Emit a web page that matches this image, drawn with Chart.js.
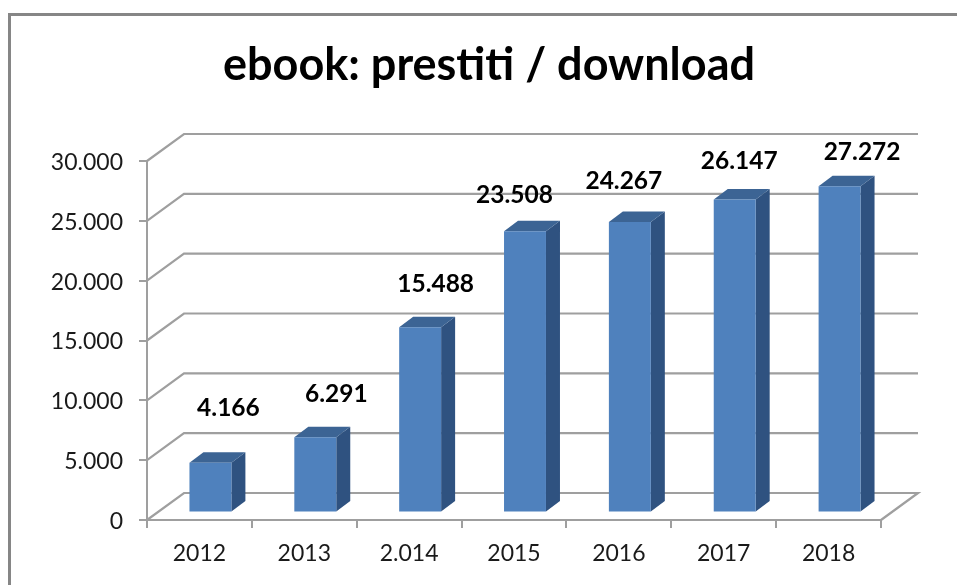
<!DOCTYPE html>
<html>
<head>
<meta charset="utf-8">
<title>ebook: prestiti / download</title>
<style>
html, body { margin: 0; padding: 0; background: #fff; overflow: hidden; }
#wrap { position: relative; width: 957px; height: 585px; overflow: hidden; }
#frame { position: absolute; left: 8px; top: 13px; width: 1000px; height: 700px; border: 3px solid #868686; }
canvas { position: absolute; left: 0; top: 0; }
</style>
</head>
<body>
<div id="wrap">
    <div id="frame"></div>
    <canvas id="myChart" width="957" height="585"></canvas>
</div>
<script src="https://cdn.jsdelivr.net/npm/chart.js@4/dist/chart.umd.min.js"></script>
<script>
var categories = ['2012', '2013', '2.014', '2015', '2016', '2017', '2018'];
var prestiti = [4166, 6291, 15488, 23508, 24267, 26147, 27272];
var yTicks = [0, 5000, 10000, 15000, 20000, 25000, 30000];

// hand placed labels in the original, offset from the top of each bar
var labelShift = [[29, -62], [32, -51], [26.5, -51], [0.5, -44], [5, -49], [15.5, -46], [33.5, -42]];

var wall = { dx: 37, dy: -27 };
var bar3d = { dx: 14, dy: -10.5, shiftX: 11, shiftY: -7.5 };
var color = {
    grid: '#9f9f9f',
    front: '#4f81bd',
    side: '#2f5280',
    top: '#3c6494',
    text: '#1a1a1a'
};

function itNumber(v) {
    return String(v).replace(/\B(?=(\d{3})+$)/g, '.');
}

function poly(ctx, pts, fill) {
    ctx.beginPath();
    ctx.moveTo(pts[0][0], pts[0][1]);
    for (var i = 1; i < pts.length; i++) {
        ctx.lineTo(pts[i][0], pts[i][1]);
    }
    ctx.closePath();
    ctx.fillStyle = fill;
    ctx.fill();
}

var depthPlugin = {
    id: 'depth',
    afterLayout: function (chart) {
        // title sits right of the page centre in the original
        chart.titleBlock.left = 97;
    },
    beforeDatasetsDraw: function (chart) {
        // back wall and floor
        var ctx = chart.ctx, y = chart.scales.y, a = chart.chartArea;
        ctx.save();
        ctx.strokeStyle = color.grid;
        ctx.lineWidth = 2.2;
        yTicks.forEach(function (t) {
            var py = y.getPixelForValue(t);
            ctx.beginPath();
            ctx.moveTo(a.left, py);
            ctx.lineTo(a.left + wall.dx, py + wall.dy);
            ctx.lineTo(a.right + wall.dx, py + wall.dy);
            if (t === 0) {
                ctx.lineTo(a.right, py);
            }
            ctx.stroke();
        });
        ctx.restore();
    },
    beforeDatasetDraw: function (chart) {
        var ctx = chart.ctx;
        ctx.save();
        ctx.translate(bar3d.shiftX, bar3d.shiftY);
        chart.getDatasetMeta(0).data.forEach(function (b) {
            var l = b.x - b.width / 2, r = b.x + b.width / 2;
            poly(ctx, [[r, b.y], [r + bar3d.dx, b.y + bar3d.dy], [r + bar3d.dx, b.base + bar3d.dy], [r, b.base]], color.side);
            poly(ctx, [[l, b.y], [l + bar3d.dx, b.y + bar3d.dy], [r + bar3d.dx, b.y + bar3d.dy], [r, b.y]], color.top);
        });
    },
    afterDatasetDraw: function (chart) {
        chart.ctx.restore();
    },
    afterDatasetsDraw: function (chart) {
        var ctx = chart.ctx;
        ctx.save();
        ctx.font = 'bold 24.5px Lato';
        ctx.fillStyle = '#000';
        ctx.textAlign = 'center';
        ctx.textBaseline = 'middle';
        chart.getDatasetMeta(0).data.forEach(function (b, i) {
            ctx.fillText(itNumber(prestiti[i]), b.x + labelShift[i][0], b.y + labelShift[i][1]);
        });
        ctx.restore();
    }
};

document.addEventListener('DOMContentLoaded', function () {
    var ctx = document.getElementById('myChart').getContext('2d');
    var myChart = new Chart(ctx, {
        type: 'bar',
        data: {
            labels: categories,
            datasets: [{
                label: 'prestiti / download',
                data: prestiti,
                backgroundColor: color.front,
                borderWidth: 0,
                barPercentage: 1,
                categoryPercentage: 0.4,
                clip: false
            }]
        },
        plugins: [depthPlugin],
        options: {
            responsive: false,
            animation: false,
            layout: { padding: { left: 0, right: 76, top: 0, bottom: 0 } },
            plugins: {
                legend: { display: false },
                tooltip: { enabled: false },
                title: {
                    display: true,
                    text: 'ebook: prestiti / download',
                    color: '#000',
                    font: { family: 'Lato', size: 45, weight: 'bold', lineHeight: 1.2 },
                    padding: { top: 38, bottom: 69 }
                }
            },
            scales: {
                x: {
                    afterFit: function (s) { s.height = 65; },
                    border: { color: color.grid, width: 2 },
                    grid: { drawOnChartArea: false, drawTicks: true, tickLength: 8, color: color.grid, lineWidth: 2 },
                    ticks: { color: color.text, font: { family: 'Lato', size: 23 }, padding: 12, maxRotation: 0 }
                },
                y: {
                    min: 0,
                    max: 30000,
                    afterFit: function (s) { s.width = 147; },
                    afterBuildTicks: function (s) {
                        s.ticks = yTicks.map(function (v) { return { value: v }; });
                    },
                    border: { color: color.grid, width: 2 },
                    grid: { drawOnChartArea: false, drawTicks: true, tickLength: 8, color: color.grid, lineWidth: 2 },
                    ticks: {
                        color: color.text,
                        font: { family: 'Lato', size: 23 },
                        padding: 16,
                        labelOffset: 1.5,
                        callback: function (v) { return itNumber(v); }
                    }
                }
            }
        }
    });
});
</script>
</body>
</html>
